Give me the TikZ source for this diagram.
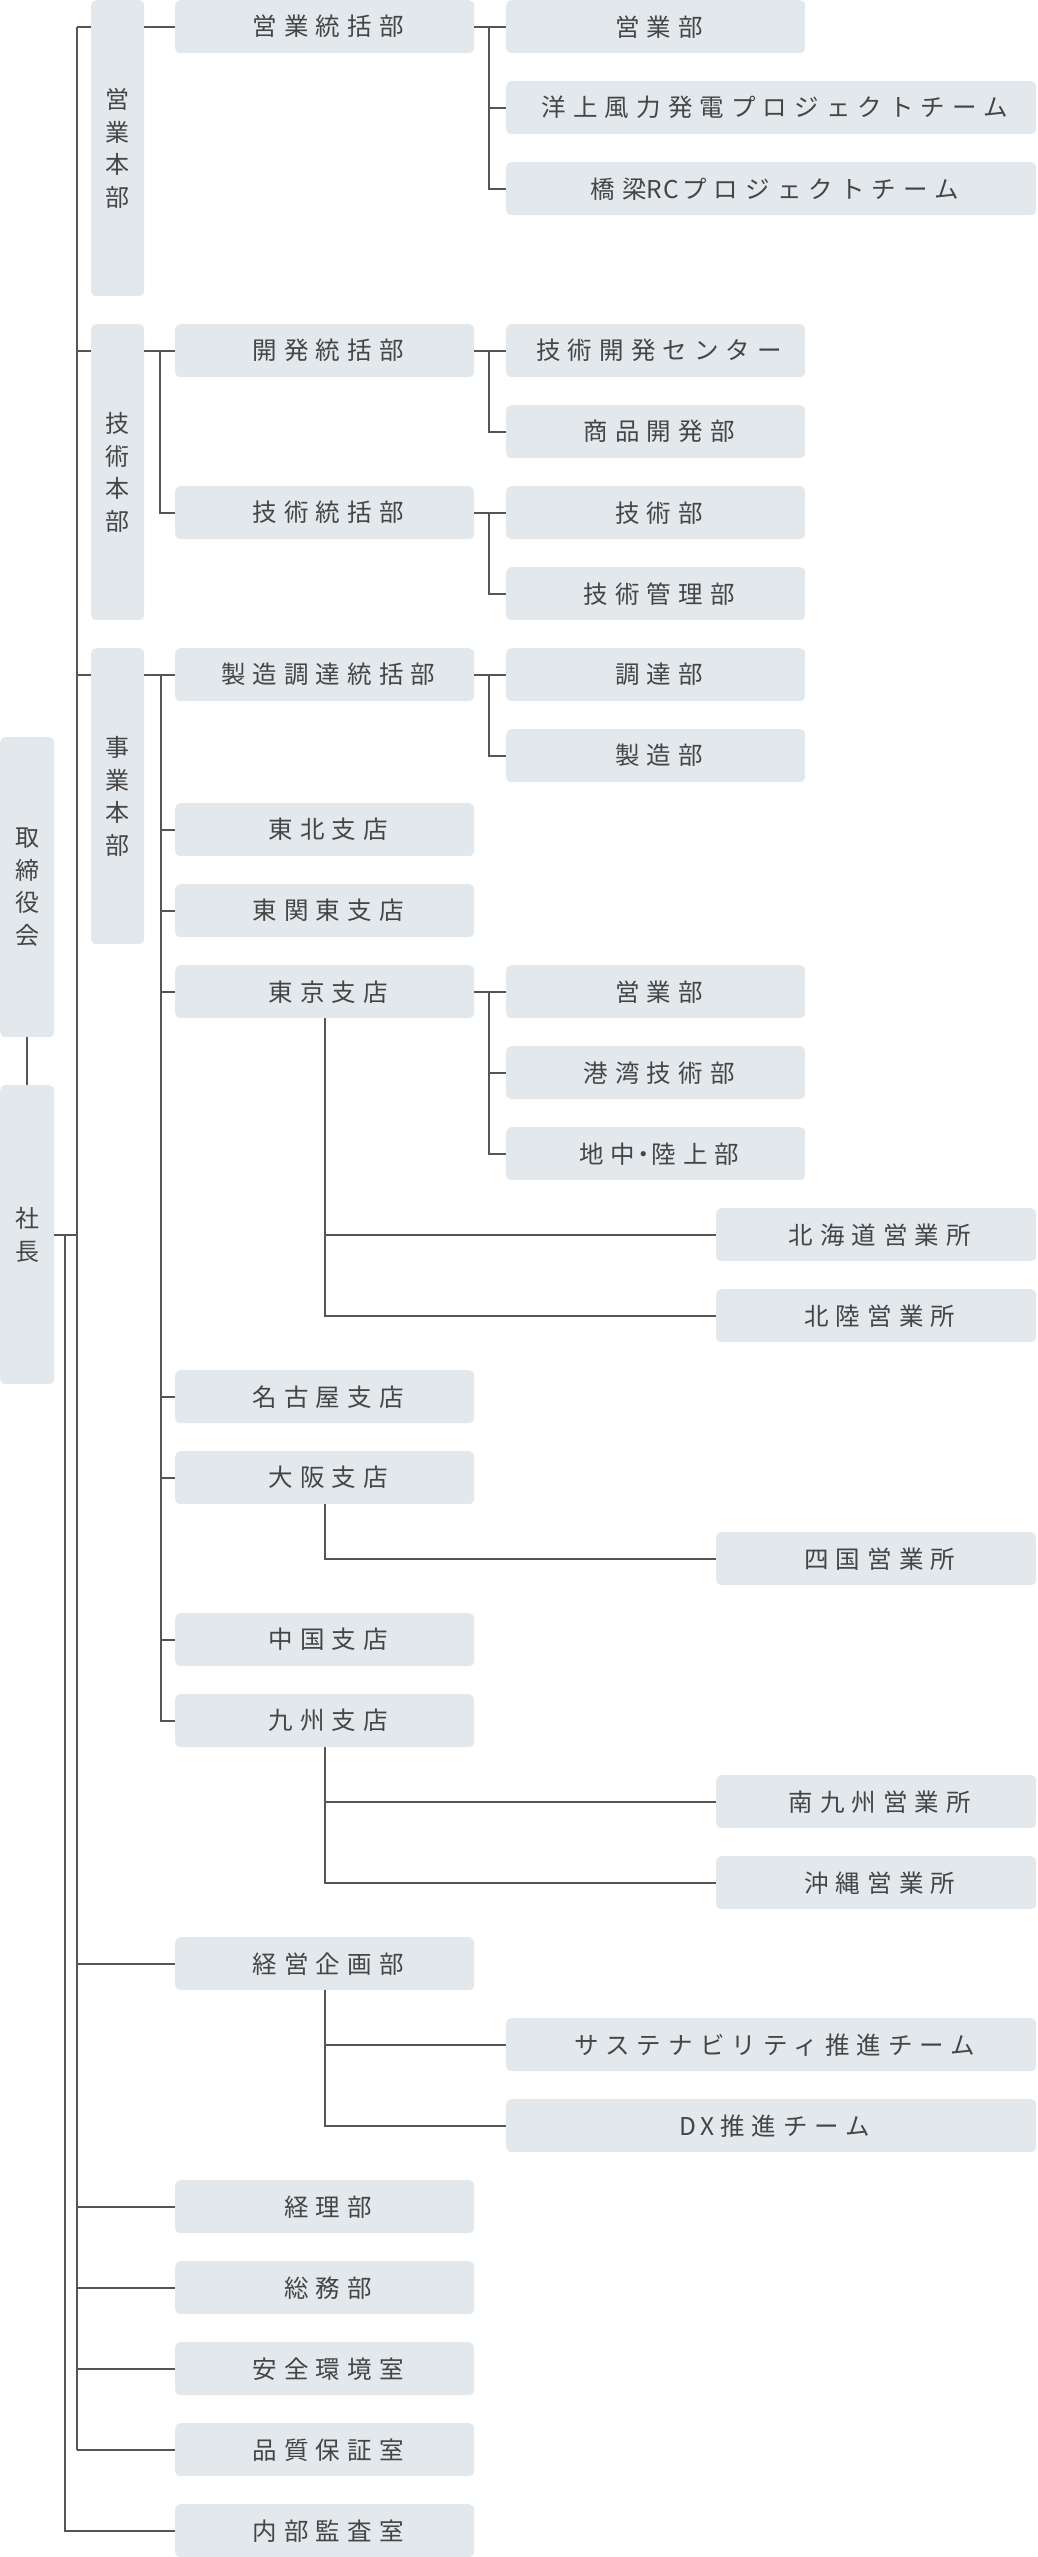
\documentclass[tikz,border=0pt]{standalone}
\usepackage{fontspec}
\newfontfamily\jp[LetterSpace=29]{Noto Sans CJK JP}
\newfontfamily\jpv{Noto Sans CJK JP}
\definecolor{boxfill}{HTML}{E3E8EC}
\definecolor{txt}{HTML}{454545}
\definecolor{ln}{HTML}{555555}
\newcommand\bxat[6]{\node[box,minimum width=#4pt,minimum height=#5pt,anchor=north west] (#1) at (#2,#3) {\vphantom{国}#6\kern-7pt};}
\newcommand\vbxat[6]{\node[vbox,minimum width=#4pt,minimum height=#5pt,anchor=north west] (#1) at (#2,#3) {#6};}
\begin{document}
\begin{tikzpicture}[x=1pt,y=-1pt,
  box/.style={fill=boxfill,rounded corners=5pt,inner sep=0pt,text=txt,font=\fontsize{24.5}{28}\jp},
  vbox/.style={fill=boxfill,rounded corners=5pt,inner sep=0pt,text=txt,align=center,font=\fontsize{24}{32.5}\jpv},
  conn/.style={draw=ln,line width=1.7pt}]
\useasboundingbox (0,0) rectangle (1037,2557);
% column A
\vbxat{torishimari}{0}{737}{54}{300}{取\\締\\役\\会}
\vbxat{shacho}{0}{1085}{54}{299}{社\\長}
% column B
\vbxat{eigyohq}{91}{0}{53}{296}{営\\業\\本\\部}
\vbxat{gijutsuhq}{91}{324}{53}{296}{技\\術\\本\\部}
\vbxat{jigyohq}{91}{648}{53}{296}{事\\業\\本\\部}
% column C
\bxat{eigyotk}{175}{0}{299}{53}{営業統括部}
\bxat{kaihatsutk}{175}{324}{299}{53}{開発統括部}
\bxat{gijutsutk}{175}{486}{299}{53}{技術統括部}
\bxat{seizotk}{175}{648}{299}{53}{製造調達統括部}
\bxat{tohoku}{175}{803}{299}{53}{東北支店}
\bxat{higashikanto}{175}{884}{299}{53}{東関東支店}
\bxat{tokyo}{175}{965}{299}{53}{東京支店}
\bxat{nagoya}{175}{1370}{299}{53}{名古屋支店}
\bxat{osaka}{175}{1451}{299}{53}{大阪支店}
\bxat{chugoku}{175}{1613}{299}{53}{中国支店}
\bxat{kyushu}{175}{1694}{299}{53}{九州支店}
\bxat{keiei}{175}{1937}{299}{53}{経営企画部}
\bxat{keiri}{175}{2180}{299}{53}{経理部}
\bxat{somu}{175}{2261}{299}{53}{総務部}
\bxat{anzen}{175}{2342}{299}{53}{安全環境室}
\bxat{hinshitsu}{175}{2423}{299}{53}{品質保証室}
\bxat{naibu}{175}{2504}{299}{53}{内部監査室}
% column D
\bxat{dA}{506}{0}{299}{53}{営業部}
\bxat{dB}{506}{81}{530}{53}{洋上風力発電プロジェクトチーム}
\bxat{dC}{506}{162}{530}{53}{橋梁{\jpv R\kern1.5pt C\kern3pt}プロジェクトチーム}
\bxat{dD}{506}{324}{299}{53}{技術開発センター}
\bxat{dE}{506}{405}{299}{53}{商品開発部}
\bxat{dF}{506}{486}{299}{53}{技術部}
\bxat{dG}{506}{567}{299}{53}{技術管理部}
\bxat{dH}{506}{648}{299}{53}{調達部}
\bxat{dI}{506}{729}{299}{53}{製造部}
\bxat{dJ}{506}{965}{299}{53}{営業部}
\bxat{dK}{506}{1046}{299}{53}{港湾技術部}
\bxat{dL}{506}{1127}{299}{53}{地中\kern-4pt{\jpv ・}\kern-4pt 陸上部}
\bxat{dM}{506}{2018}{530}{53}{サステナビリティ推進チーム}
\bxat{dN}{506}{2099}{530}{53}{{\jpv D\kern4pt X\kern6pt}推進チーム}
% column E
\bxat{eA}{716}{1208}{320}{53}{北海道営業所}
\bxat{eB}{716}{1289}{320}{53}{北陸営業所}
\bxat{eC}{716}{1532}{320}{53}{四国営業所}
\bxat{eD}{716}{1775}{320}{53}{南九州営業所}
\bxat{eE}{716}{1856}{320}{53}{沖縄営業所}
% trunk coordinates
\coordinate (trunk) at (77,0);
\coordinate (trunkb) at (65,0);
\coordinate (gbx) at (160,0);
\coordinate (jbx) at (161,0);
\coordinate (br) at (489,0);
% board to president
\draw[conn] (torishimari.south) -- (shacho.north);
\draw[conn] (shacho.east) -- (trunk |- shacho.east);
\draw[conn] (trunk |- eigyotk.west) -- (trunk |- hinshitsu.west);
\draw[conn] (trunkb |- shacho.east) |- (naibu.west);
% trunk stubs
\draw[conn] (trunk |- eigyotk.west) -- (eigyohq.west |- eigyotk.west);
\draw[conn] (trunk |- kaihatsutk.west) -- (gijutsuhq.west |- kaihatsutk.west);
\draw[conn] (trunk |- seizotk.west) -- (jigyohq.west |- seizotk.west);
\foreach \n in {keiei,keiri,somu,anzen,hinshitsu}
  \draw[conn] (trunk |- \n.west) -- (\n.west);
% headquarters to divisions
\draw[conn] (eigyohq.east |- eigyotk.west) -- (eigyotk.west);
\draw[conn] (gijutsuhq.east |- kaihatsutk.west) -- (kaihatsutk.west);
\draw[conn] (gbx |- kaihatsutk.west) |- (gijutsutk.west);
\draw[conn] (jigyohq.east |- seizotk.west) -- (seizotk.west);
\foreach \n in {tohoku,higashikanto,tokyo,nagoya,osaka,chugoku,kyushu}
  \draw[conn] (jbx |- seizotk.west) |- (\n.west);
% brackets to departments
\foreach \p/\c in {eigyotk/dA,eigyotk/dB,eigyotk/dC,kaihatsutk/dD,kaihatsutk/dE,gijutsutk/dF,gijutsutk/dG,seizotk/dH,seizotk/dI,tokyo/dJ,tokyo/dK,tokyo/dL}
  \draw[conn] (\p.east) -| (br |- \c.west) -- (\c.west);
% downward connectors
\foreach \p/\c in {tokyo/eA,tokyo/eB,osaka/eC,kyushu/eD,kyushu/eE,keiei/dM,keiei/dN}
  \draw[conn] (\p.south) |- (\c.west);
\end{tikzpicture}
\end{document}
